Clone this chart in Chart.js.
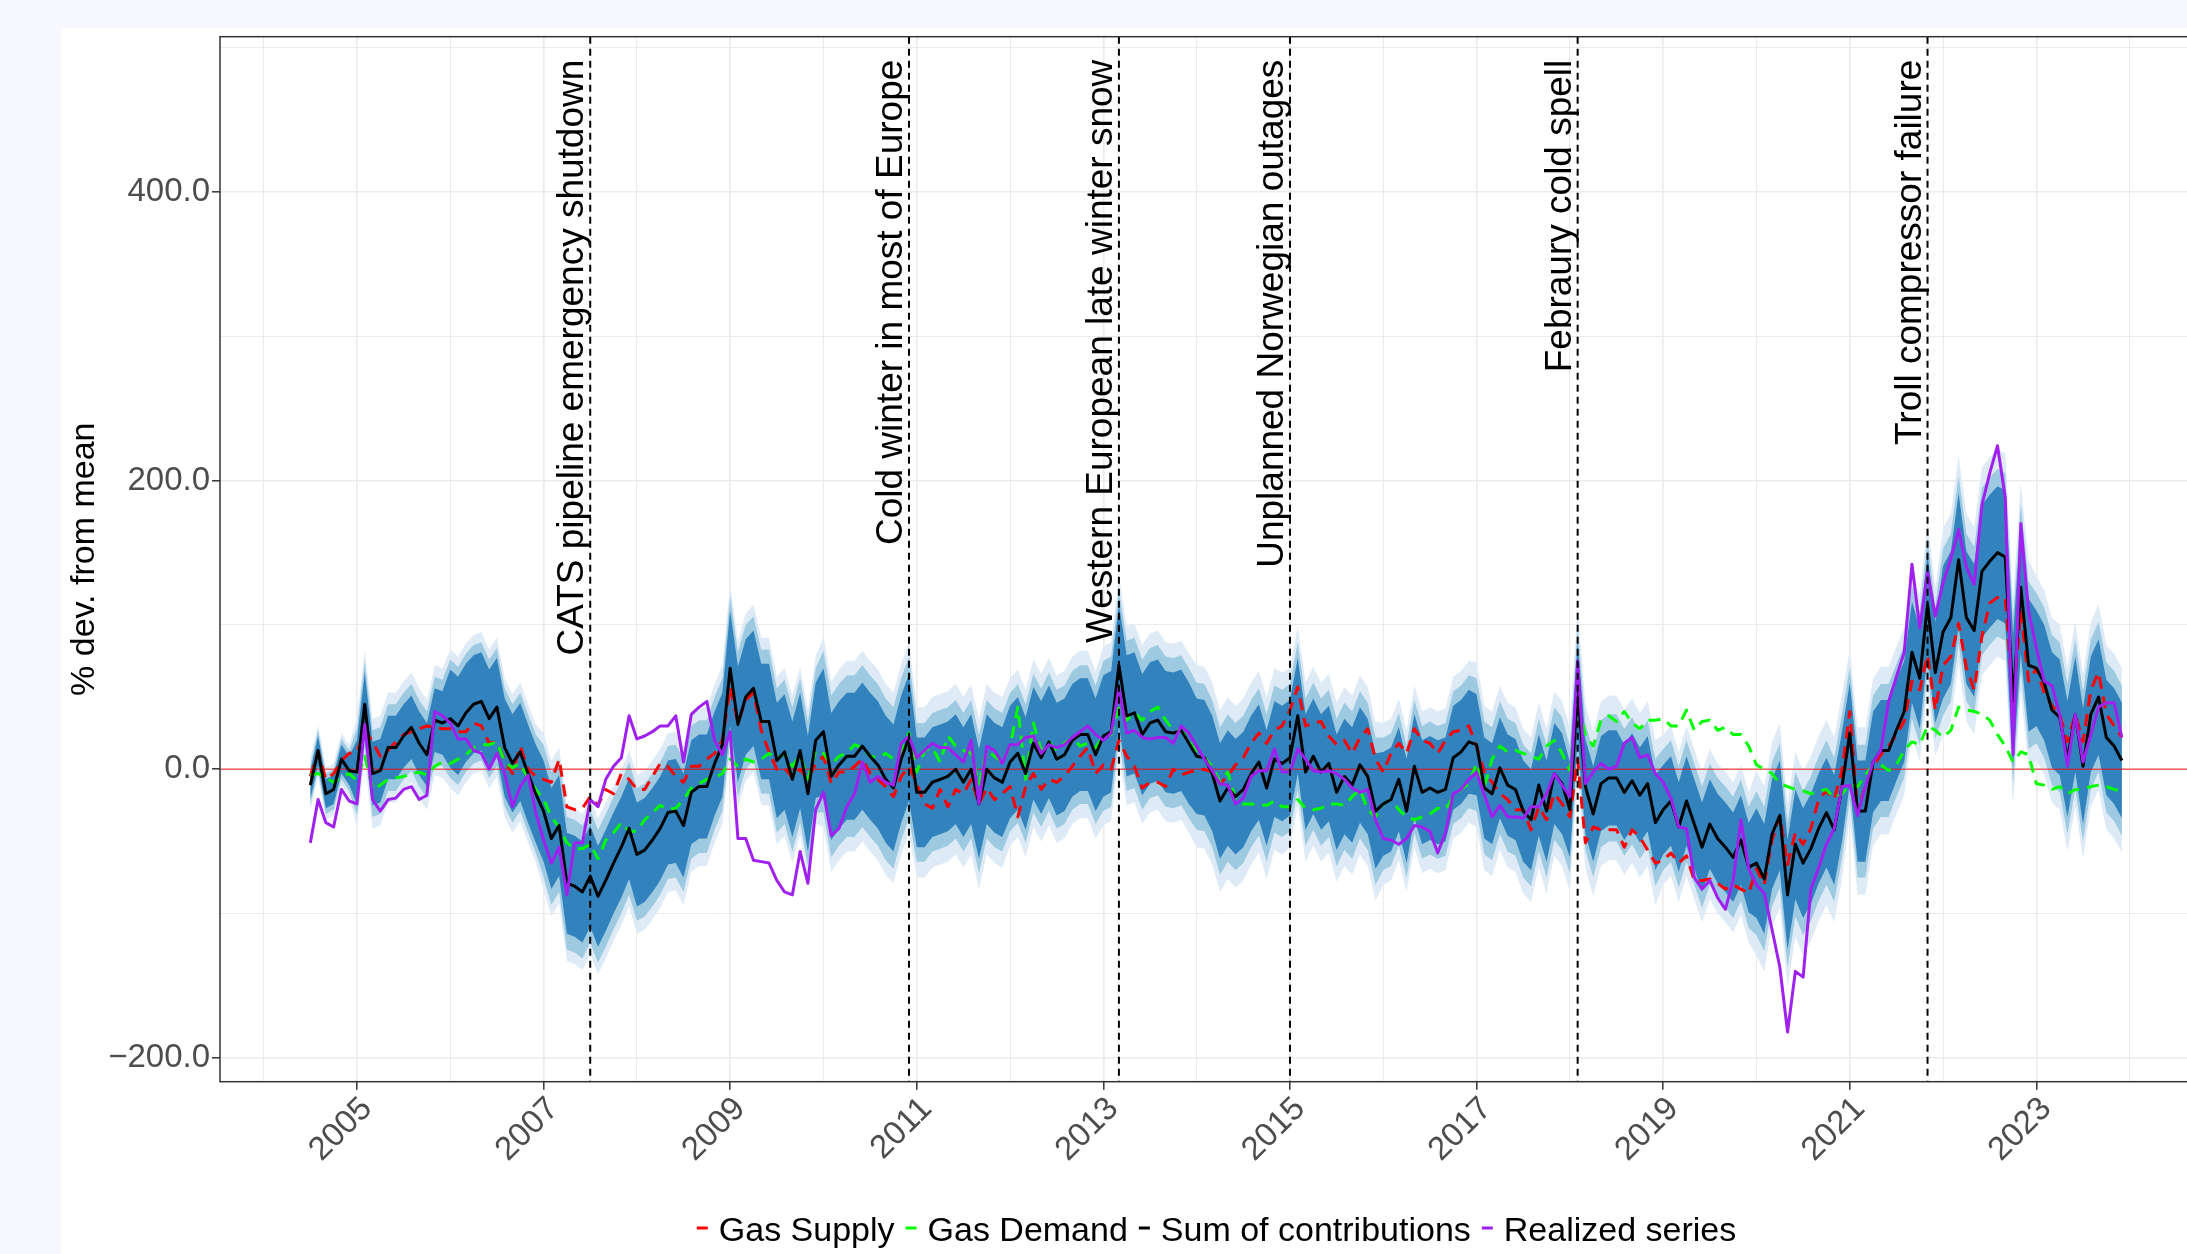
<!DOCTYPE html>
<html>
<head>
<meta charset="utf-8">
<title>Gas price: supply and demand contributions</title>
<script src="https://cdn.jsdelivr.net/npm/chart.js@4.4.1/dist/chart.umd.min.js"></script>
<style>
  html, body { margin: 0; padding: 0; }
  body { width: 2187px; height: 1254px; overflow: hidden; background: #f7f8fd; position: relative; }
  #panel { position: absolute; left: 61px; top: 28px; width: 2126px; height: 1226px; background: #ffffff; overflow: hidden; }
  #chart { display: block; width: 2164px; height: 1226px; }
</style>
</head>
<body>
<div id="panel"><canvas id="chart" width="2164" height="1226"></canvas></div>
<script>
// Monthly series from July 2004 to December 2023, % deviation from mean
const startYear = 2004;
const startMonth = 7;

const sumContrib = [
  -11, 13, -17, -14, 7, -1,
  -2, 45, -3, -1, 15, 15, 23, 29, 18, 10, 34, 32,
  35, 30, 39, 45, 47, 35, 43, 15, 4, 12, -3, -17,
  -29, -48, -39, -79, -81, -85, -74, -88, -77, -65, -54, -41,
  -59, -56, -49, -41, -30, -29, -39, -16, -12, -12, 4, 17,
  70, 31, 50, 56, 33, 33, 6, 12, -7, 13, -17, 20,
  26, -5, 3, 9, 9, 16, 9, 3, -7, -13, 7, 22,
  -16, -16, -9, -7, -5, 0, -9, 0, -24, 0, -6, -9,
  5, 11, -3, 18, 8, 19, 7, 10, 20, 24, 24, 10,
  23, 26, 72, 37, 39, 24, 32, 34, 26, 25, 27, 18,
  9, 8, -3, -22, -13, -19, -14, -3, 5, -13, 7, 4,
  8, 37, -2, 9, -2, 4, -16, -5, -11, 3, -5, -29,
  -24, -21, -7, -29, 2, -16, -13, -16, -14, 8, 12, 19,
  17, -13, -17, 1, -11, -14, -29, -35, -11, -29, -3, -10,
  -28, 55, -12, -31, -10, -6, -6, -16, -8, -18, -10, -37,
  -28, -22, -40, -22, -38, -54, -38, -48, -54, -61, -49, -68,
  -65, -76, -45, -32, -87, -52, -65, -55, -41, -30, -42, -12,
  25, -29, -29, 5, 13, 13, 27, 40, 81, 63, 114, 67,
  95, 105, 145, 105, 96, 137, 144, 150, 147, 47, 126, 72,
  70, 60, 41, 36, 7, 38, 2, 38, 50, 22, 16, 6
];

const gasSupply = [
  -5, 12, -7, -3, 6, 11,
  12, 27, 19, 9, 13, 19, 24, 26, 28, 30, 29, 28,
  28, 26, 26, 32, 30, 18, 19, 6, -3, 16, 0, -5,
  -7, -9, 7, -26, -28, -27, -19, -25, -14, -17, -3, -7,
  -14, -14, -5, 4, 2, -5, -9, 2, 2, 7, 11, 20,
  57, 32, 48, 53, 27, 12, 0, 1, -6, 0, -7, 4,
  9, -10, -2, -2, 2, 7, -3, -7, -12, -19, -5, 2,
  -10, -24, -27, -14, -26, -14, -17, -7, -24, -13, -21, -17,
  -12, -33, -12, -3, -14, -7, -9, -5, 2, 9, 15, -3,
  3, 0, 20, 9, 2, -13, -9, -9, -12, 0, -4, -2,
  -1, 0, -2, -10, -5, 3, 8, 18, 25, 18, 27, 30,
  41, 57, 30, 32, 33, 23, 17, 20, 11, 22, 28, 7,
  -2, 11, 18, 11, 28, 20, 18, 11, 20, 26, 27, 30,
  16, -2, -9, -17, -21, -28, -28, -42, -26, -35, -17, -24,
  -33, 7, -51, -40, -42, -42, -42, -54, -42, -47, -56, -65,
  -63, -58, -65, -60, -77, -77, -76, -79, -83, -80, -83, -86,
  -69, -80, -49, -32, -66, -44, -52, -41, -21, -15, -21, -1,
  40, -29, -12, 2, 10, 16, 24, 33, 61, 55, 79, 41,
  72, 78, 101, 70, 55, 92, 115, 119, 119, 45, 110, 61,
  70, 53, 44, 38, 19, 38, 19, 55, 67, 38, 30, 22
];

const gasDemand = [
  -4, -3, -6, -9, -5, -3,
  -8, 9, -14, -11, -7, -6, -5, -3, -2, -4, 2, 5,
  4, 7, 10, 15, 17, 17, 19, 5, 1, 4, -6, -14,
  -21, -33, -40, -51, -55, -55, -52, -62, -49, -44, -37, -43,
  -43, -35, -30, -25, -28, -27, -21, -13, -10, -7, -6, -3,
  7, 2, 7, 5, 7, 11, 7, 11, 2, 10, -7, 13,
  11, 3, 9, 11, 17, 15, 9, 8, 11, 7, 11, 25,
  -2, 13, 15, 5, 23, 16, 13, 11, -10, 13, 9, 5,
  16, 43, -7, 32, 13, 19, 13, 18, 22, 16, 18, 15,
  23, 24, 43, 34, 39, 34, 40, 43, 34, 27, 27, 20,
  11, 8, 2, -9, -2, -21, -24, -24, -25, -25, -22, -26,
  -26, -21, -27, -28, -27, -24, -24, -25, -19, -14, -28, -33,
  -24, -21, -28, -33, -35, -33, -31, -27, -28, -19, -14, -10,
  4, -12, 7, 16, 12, 13, 11, 9, 7, 16, 20, 11,
  -1, 48, 23, 16, 34, 37, 33, 40, 32, 28, 34, 34,
  35, 30, 30, 41, 27, 33, 34, 27, 29, 24, 24, 16,
  3, 0, -3, -10, -12, -14, -15, -17, -15, -14, -20, -17,
  -11, -12, -4, 3, 3, -1, 3, 13, 19, 17, 30, 27,
  22, 27, 43, 41, 40, 38, 34, 24, 16, 5, 12, 10,
  -10, -11, -14, -12, -17, -14, -14, -12, -11, -12, -14, -15
];

const realized = [
  -51, -21, -37, -40, -14, -22,
  -24, 31, -21, -29, -21, -20, -14, -12, -21, -18, 40, 37,
  32, 21, 21, 13, 11, 0, 11, -3, -26, -12, -4, -30,
  -49, -65, -54, -87, -51, -51, -21, -26, -7, 2, 8, 37,
  21, 23, 26, 30, 30, 37, 5, 38, 43, 47, 20, 10,
  26, -48, -48, -63, -64, -65, -77, -85, -87, -57, -79, -28,
  -16, -46, -41, -26, -17, 5, -9, -5, -9, -11, 18, 23,
  8, 13, 18, 15, 15, 10, 5, 20, -24, 16, 13, 4,
  17, 17, 22, 23, 11, 17, 15, 17, 22, 26, 30, 24,
  20, 25, 56, 25, 27, 22, 21, 22, 22, 18, 30, 25,
  16, 7, -1, -10, -11, -24, -20, -5, -1, -1, 14, -2,
  -2, 14, 7, -1, -2, -1, -3, -7, -13, -16, -14, -35,
  -48, -49, -52, -48, -39, -40, -43, -58, -44, -17, -14, -7,
  -2, -18, -33, -25, -33, -33, -34, -26, -26, -17, -3, -11,
  -19, 75, -10, -2, 4, 0, 2, 18, 22, 8, 10, -3,
  -9, -20, -40, -41, -75, -83, -77, -89, -97, -77, -35, -69,
  -80, -86, -111, -137, -182, -140, -144, -83, -68, -52, -41, -12,
  -11, -32, -12, 5, 13, 47, 64, 81, 142, 98, 137, 106,
  129, 146, 166, 140, 128, 183, 205, 224, 188, 10, 170, 109,
  84, 61, 58, 38, 2, 38, 5, 24, 43, 46, 46, 22
];

// Half widths of the three uncertainty bands around the sum, per calendar year
const bandYears  = [2004, 2005, 2006, 2007, 2008, 2009, 2010, 2011, 2012, 2013, 2014, 2015, 2016, 2017, 2018, 2019, 2020, 2021, 2022, 2023];
const bandInner  = [10, 22, 34, 35, 36, 40, 44, 38, 39, 42, 40, 40, 36, 35, 33, 31, 38, 35, 46, 40];
const bandMiddle = [14, 30, 41, 46, 46, 50, 56, 48, 48, 52, 51, 51, 46, 46, 44, 42, 50, 46, 58, 52];
const bandOuter  = [18, 38, 48, 54, 55, 58, 66, 59, 58, 62, 63, 62, 56, 57, 57, 52, 64, 58, 72, 64];

// Events marked with a dashed line
const eventDates  = ['2007-07', '2010-12', '2013-03', '2015-01', '2018-02', '2021-11'];
const eventLabels = [
  'CATS pipeline emergency shutdown',
  'Cold winter in most of Europe',
  'Western European late winter snow',
  'Unplanned Norwegian outages',
  'Febraury cold spell',
  'Troll compressor failure'
];

// Axis ticks
const xLabelYears = [2005, 2007, 2009, 2011, 2013, 2015, 2017, 2019, 2021, 2023];
const yLabelValues = [-200, 0, 200, 400];
const xMin = 2003.532, xMax = 2024.893;
const yMin = -216.4, yMax = 507.3;

const legendNames  = ['Gas Supply', 'Gas Demand', 'Sum of contributions', 'Realized series'];
const legendColors = ['#ff0000', '#00ff00', '#000000', '#a020f0'];

const FONT = '"Liberation Sans", Arial, Helvetica, sans-serif';

// Month index -> decimal year
function monthOffset(i) {
    return startMonth - 1 + i;
}
const months = sumContrib.map((_, i) => startYear + monthOffset(i) / 12);

function toPoints(values) {
    return values.map((v, i) => ({ x: months[i], y: v }));
}

function bandEdge(widths, sign) {
    return sumContrib.map((v, i) => {
        const k = bandYears.indexOf(startYear + Math.floor(monthOffset(i) / 12));
        return { x: months[i], y: v + sign * widths[k] };
    });
}

function eventYear(s) {
    const parts = s.split('-');
    return parseInt(parts[0]) + (parseInt(parts[1]) - 1) / 12;
}

function formatY(v) {
    return (v < 0 ? '\u2212' : '') + Math.abs(v).toFixed(1);
}

// Dashed event lines and their rotated captions
const eventLines = {
    id: 'eventLines',
    afterDatasetsDraw(chart) {
        const ctx = chart.ctx;
        const area = chart.chartArea;
        const x = chart.scales.x;
        ctx.save();
        eventDates.forEach((d, i) => {
            const px = x.getPixelForValue(eventYear(d));
            ctx.beginPath();
            ctx.setLineDash([7, 5]);
            ctx.lineWidth = 2;
            ctx.strokeStyle = '#000000';
            ctx.moveTo(px, area.top);
            ctx.lineTo(px, area.bottom);
            ctx.stroke();

            ctx.save();
            ctx.setLineDash([]);
            ctx.translate(px - 7, area.top + 23);
            ctx.rotate(-Math.PI / 2);
            ctx.font = '37px ' + FONT;
            ctx.fillStyle = '#000000';
            ctx.textAlign = 'right';
            ctx.textBaseline = 'alphabetic';
            ctx.fillText(eventLabels[i], 0, 0);
            ctx.restore();
        });
        ctx.restore();
    }
};

// Frame around the plotting panel
const panelBorder = {
    id: 'panelBorder',
    afterDatasetsDraw(chart) {
        const ctx = chart.ctx;
        const a = chart.chartArea;
        ctx.save();
        ctx.strokeStyle = '#333333';
        ctx.lineWidth = 1.5;
        ctx.strokeRect(a.left, a.top, a.right - a.left, a.bottom - a.top);
        ctx.restore();
    }
};

// Legend under the axis, centred on the panel
const bottomLegend = {
    id: 'bottomLegend',
    afterDraw(chart) {
        const ctx = chart.ctx;
        const a = chart.chartArea;
        const keyW = 11, keyGap = 11, itemGap = 11;
        ctx.save();
        ctx.font = '34px ' + FONT;
        const widths = legendNames.map(n => ctx.measureText(n).width);
        const total = widths.reduce((s, w) => s + w, 0) +
            legendNames.length * (keyW + keyGap) + (legendNames.length - 1) * itemGap;
        let x = (a.left + a.right) / 2 - total / 2;
        const textY = chart.height - 13;
        const keyY = chart.height - 26;
        legendNames.forEach((name, i) => {
            ctx.fillStyle = legendColors[i];
            ctx.fillRect(x, keyY - 1.5, keyW, 3);
            x += keyW + keyGap;
            ctx.fillStyle = '#000000';
            ctx.textAlign = 'left';
            ctx.textBaseline = 'alphabetic';
            ctx.fillText(name, x, textY);
            x += widths[i] + itemGap;
        });
        ctx.restore();
    }
};

function bandPair(widths, color, order) {
    return [
        { data: bandEdge(widths, 1), borderColor: 'rgba(0,0,0,0)', borderWidth: 0, fill: false, order: order },
        { data: bandEdge(widths, -1), borderColor: 'rgba(0,0,0,0)', borderWidth: 0, fill: '-1', backgroundColor: color, order: order }
    ];
}

const datasets = [].concat(
    bandPair(bandOuter, '#deebf7', 12),
    bandPair(bandMiddle, '#9ecae1', 11),
    bandPair(bandInner, '#3182bd', 10),
    [
        { data: [{ x: xMin, y: 0 }, { x: xMax, y: 0 }], borderColor: 'rgba(255,0,0,0.6)', borderWidth: 1.6, fill: false, order: 5 },
        { label: legendNames[0], data: toPoints(gasSupply), borderColor: legendColors[0], borderWidth: 3, borderDash: [12, 8], fill: false, order: 3 },
        { label: legendNames[1], data: toPoints(gasDemand), borderColor: legendColors[1], borderWidth: 3, borderDash: [12, 8], fill: false, order: 2 },
        { label: legendNames[2], data: toPoints(sumContrib), borderColor: legendColors[2], borderWidth: 3, fill: false, order: 1 },
        { label: legendNames[3], data: toPoints(realized), borderColor: legendColors[3], borderWidth: 3, fill: false, order: 0 }
    ]
);

new Chart(document.getElementById('chart'), {
    type: 'line',
    data: { datasets: datasets },
    options: {
        responsive: false,
        animation: false,
        devicePixelRatio: 1,
        layout: { padding: { top: 8.7, right: 12, bottom: 0, left: 0 } },
        elements: { point: { radius: 0 }, line: { tension: 0, borderJoinStyle: 'round' } },
        plugins: { legend: { display: false }, tooltip: { enabled: false } },
        scales: {
            x: {
                type: 'linear',
                min: xMin,
                max: xMax,
                border: { display: false },
                grid: {
                    color: '#ebebeb',
                    lineWidth: ctx => xLabelYears.includes(ctx.tick.value) ? 1.6 : 1,
                    tickLength: 8,
                    tickWidth: 1.5,
                    tickColor: ctx => xLabelYears.includes(ctx.tick.value) ? '#333333' : 'rgba(0,0,0,0)'
                },
                ticks: {
                    stepSize: 1,
                    includeBounds: false,
                    autoSkip: false,
                    minRotation: 45,
                    maxRotation: 45,
                    padding: 0,
                    labelOffset: 10,
                    color: '#4d4d4d',
                    font: { family: FONT, size: 33 },
                    callback: v => xLabelYears.includes(v) ? String(v) : ''
                },
                afterFit: s => { s.height = 172.3; s.paddingLeft = 0; s.paddingRight = 0; }
            },
            y: {
                min: yMin,
                max: yMax,
                border: { display: false },
                grid: {
                    color: '#ebebeb',
                    lineWidth: ctx => yLabelValues.includes(ctx.tick.value) ? 1.6 : 1,
                    tickLength: 8,
                    tickWidth: 1.5,
                    tickColor: ctx => yLabelValues.includes(ctx.tick.value) ? '#333333' : 'rgba(0,0,0,0)'
                },
                ticks: {
                    stepSize: 100,
                    includeBounds: false,
                    padding: 2,
                    color: '#4d4d4d',
                    font: { family: FONT, size: 33 },
                    callback: v => yLabelValues.includes(v) ? formatY(v) : ''
                },
                title: {
                    display: true,
                    text: '% dev. from mean',
                    color: '#000000',
                    font: { family: FONT, size: 34 },
                    padding: { top: 3, bottom: 0 }
                },
                afterFit: s => { s.width = 159; s.paddingTop = 0; s.paddingBottom = 0; }
            }
        }
    },
    plugins: [eventLines, panelBorder, bottomLegend]
});
</script>
</body>
</html>
